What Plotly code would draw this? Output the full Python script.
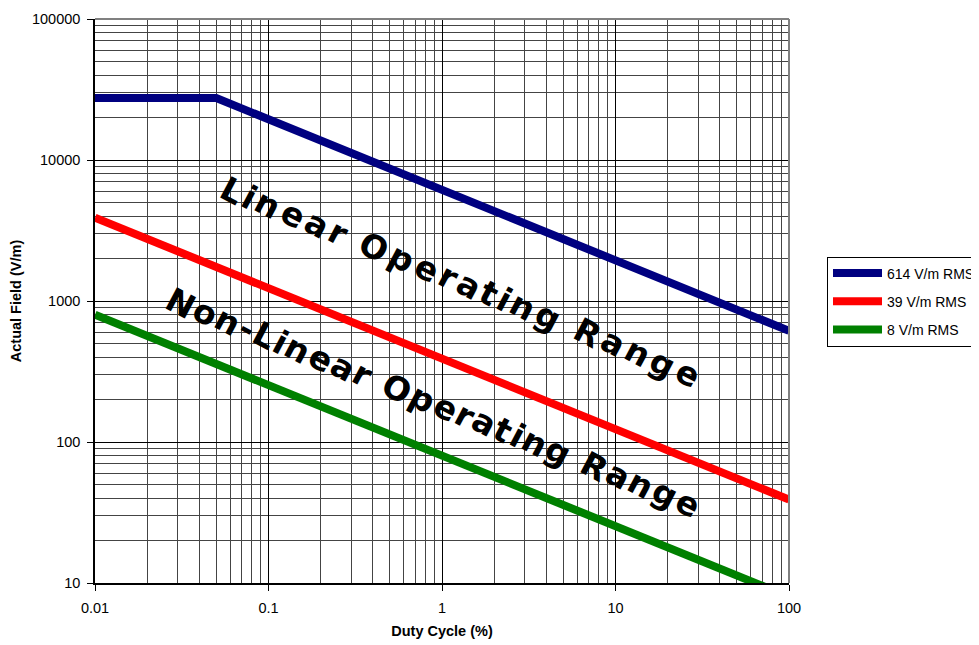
import plotly.graph_objects as go

# ---- data ----
duty_614 = [0.01, 0.05, 100]
field_614 = [27500, 27500, 614]
duty_39 = [0.01, 100]
field_39 = [3900, 39]
duty_8 = [0.01, 100]
field_8 = [800, 8]

series_names = ["614 V/m RMS", "39 V/m RMS", "8 V/m RMS"]
series_colors = ["#000080", "#FF0000", "#008000"]

x_tickvals = [0.01, 0.1, 1, 10, 100]
x_ticktext = ["0.01", "0.1", "1", "10", "100"]
y_tickvals = [10, 100, 1000, 10000, 100000]
y_ticktext = ["10", "100", "1000", "10000", "100000"]

label_linear = "Linear Operating Range"
label_nonlinear = "Non-Linear Operating Range"

# ---- figure geometry (page pixels; page body has an 8px margin) ----
OFF = 8
W, H = 979 - OFF, 645 - OFF
PL, PR, PT, PB = 95, 789, 19, 583          # plot area on the page
ML, MT = PL - OFF, PT - OFF
MR, MB = W - (PR - OFF), H - (PB - OFF)
PW, PH = PR - PL, PB - PT


def to_paper(px, py):
    return (px - PL) / PW, (PB - py) / PH


fig = go.Figure()
for i, (xs, ys, name, col) in enumerate(zip([duty_614, duty_39, duty_8],
                                            [field_614, field_39, field_8],
                                            series_names, series_colors)):
    fig.add_trace(go.Scatter(x=xs, y=ys, mode="lines", name=name, legendgroup=f"g{i}",
                             line=dict(color=col, width=8)))

# WordArt-like labels: letters placed along a straight baseline, each rotated
adv = {"L": .637, "i": .343, "n": .712, "e": .678, "a": .675, "r": .493, " ": .348,
       "O": .850, "p": .716, "t": .478, "g": .716, "R": .770, "N": .837, "-": .415}


def place_text(text, start, end, size=33, angle=28):
    ws = [adv.get(c, .65) for c in text]
    centers = []
    acc = 0.0
    for w in ws:
        centers.append(acc + w / 2)
        acc += w
    c0, c1 = centers[0], centers[-1]
    for ch, c in zip(text, centers):
        if ch == " ":
            continue
        t = (c - c0) / (c1 - c0)
        px = start[0] + t * (end[0] - start[0])
        py = start[1] + t * (end[1] - start[1])
        xp, yp = to_paper(px, py)
        fig.add_annotation(x=xp, y=yp, xref="paper", yref="paper",
                           text=ch, showarrow=False, textangle=angle,
                           xanchor="center", yanchor="middle",
                           font=dict(family="DejaVu Sans", size=size, color="black", weight="bold"))


place_text(label_linear, (232, 190), (688, 373))
place_text(label_nonlinear, (181, 303), (688, 503))

FONT = "Liberation Sans, Arial"
axis_font = dict(family=FONT, size=14.5, color="black")
grid_common = dict(type="log", showgrid=True, gridcolor="#000000", gridwidth=1,
                   showline=True, linecolor="black", linewidth=1.5,
                   ticks="outside", ticklen=6, tickcolor="black",
                   tickfont=axis_font, zeroline=False, automargin=False,
                   minor=dict(dtick="D1", showgrid=True, gridcolor="#444444", gridwidth=1, ticks=""))

fig.update_xaxes(range=[-2, 2], tickvals=x_tickvals, ticktext=x_ticktext, ticklabelstandoff=5,
                 title=dict(text="<b>Duty Cycle (%)</b>", font=dict(family=FONT, size=14.5, color="black"), standoff=11),
                 **grid_common)
fig.update_yaxes(range=[1, 5], tickvals=y_tickvals, ticktext=y_ticktext, ticklabelstandoff=4,
                 title=dict(text="<b>Actual Field (V/m)</b>", font=dict(family=FONT, size=14.5, color="black"), standoff=10),
                 **grid_common)

# gray top/right plot-area border
fig.add_shape(type="line", xref="paper", yref="paper", x0=0, x1=1, y0=1, y1=1,
              line=dict(color="#808080", width=2))
fig.add_shape(type="line", xref="paper", yref="paper", x0=1, x1=1, y0=0, y1=1,
              line=dict(color="#808080", width=2))

lx, ly = to_paper(827, 301.5)
fig.update_layout(
    width=W, height=H,
    margin=dict(l=ML, r=MR, t=MT, b=MB, autoexpand=False),
    paper_bgcolor="white", plot_bgcolor="white",
    showlegend=True,
    legend=dict(x=lx, y=ly, xanchor="left", yanchor="middle",
                bordercolor="black", borderwidth=1, bgcolor="white",
                font=dict(family=FONT, size=14, color="black"),
                tracegroupgap=7, itemwidth=49),
)

fig.write_html("out.html")
